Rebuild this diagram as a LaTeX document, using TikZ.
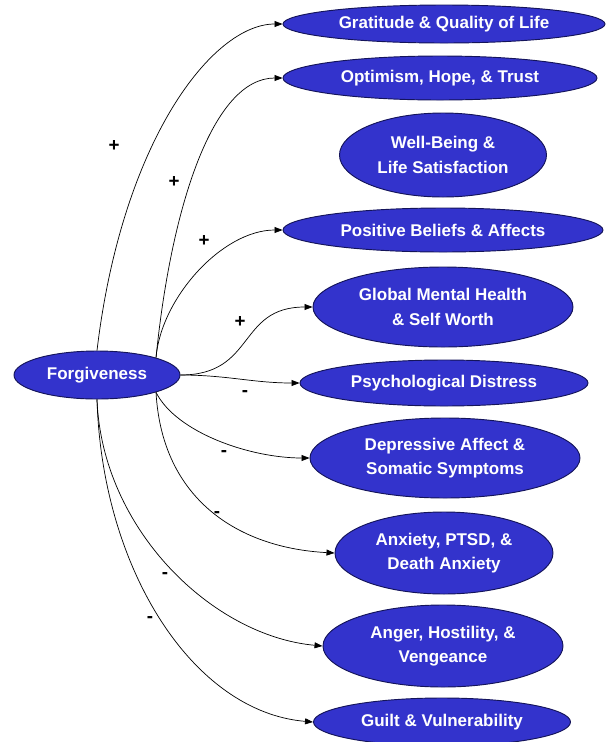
\documentclass[tikz,border=0pt]{standalone}
\usepackage{fontspec}
\setmainfont{Liberation Sans}
\usepackage{tikz}
\usetikzlibrary{arrows.meta, shapes.geometric}
\definecolor{ovalblue}{RGB}{51,51,204}
\definecolor{ovalline}{RGB}{20,20,90}

\begin{document}
\begin{tikzpicture}[x=0.03cm, y=-0.03cm,
    outcome/.style={draw=ovalline, line width=0.8pt, ellipse, fill=ovalblue, inner sep=0pt,
        text=white, font=\fontsize{14.5}{21}\selectfont\bfseries, align=center},
    ovalsize/.style 2 args={minimum width=#1*0.03cm, minimum height=#2*0.03cm},
    link/.style={-{Triangle[length=2.4mm, width=1.8mm]}, line width=0.6pt},
    sign/.style={font=\fontsize{16}{16}\selectfont\bfseries, inner sep=0pt}]
    \useasboundingbox (0,0) rectangle (607,742);
    \clip (0,0) rectangle (607,742);

    % Forgiveness
    \node[outcome, ovalsize={166}{48}] (forg) at (97,375) {Forgiveness};

    % Positive outcomes
    \node[outcome, ovalsize={322}{38}] (grat) at (444,24) {Gratitude \& Quality of Life};
    \node[outcome, ovalsize={314}{44}] (optim) at (440,78) {Optimism, Hope, \& Trust};
    \node[outcome, ovalsize={207}{84}] (wellb) at (443,155) {Well-Being \&\\Life Satisfaction};
    \node[outcome, ovalsize={320}{44}] (posb) at (443,230) {Positive Beliefs \& Affects};
    \node[outcome, ovalsize={260}{80}] (globmh) at (443,307) {Global Mental Health\\\& Self Worth};

    % Negative outcomes
    \node[outcome, ovalsize={288}{46}] (psyd) at (444,383) {Psychological Distress};
    \node[outcome, ovalsize={270}{80}] (depr) at (445,458) {Depressive Affect \&\\Somatic Symptoms};
    \node[outcome, ovalsize={218}{82}] (anx) at (444,553) {Anxiety, PTSD, \&\\Death Anxiety};
    \node[outcome, ovalsize={240}{82}] (anger) at (443,646) {Anger, Hostility, \&\\Vengeance};
    \node[outcome, ovalsize={257}{48}] (guilt) at (442,722) {Guilt \& Vulnerability};

    % Links
    \draw[link] (forg.north) .. controls +(25,-210) and +(-70,0) .. (grat.west);
    \draw[link] (forg.north east) .. controls +(15,-150) and +(-70,0) .. (optim.west);
    \draw[link] (forg.north east) .. controls +(5,-60) and +(-60,0) .. (posb.west);
    \draw[link] (forg.east) to[out=0, in=180, looseness=1.3] (globmh.west);
    \draw[link] (forg.east) to[out=0, in=180] (psyd.west);
    \draw[link] (forg.south east) .. controls +(20,40) and +(-60,0) .. (depr.west);
    \draw[link] (forg.south east) .. controls +(6,108) and +(-95,-5) .. (anx.west);
    \draw[link] (forg.south) .. controls +(5,130) and +(-110,-10) .. (anger.west);
    \draw[link] (forg.south) .. controls +(5,170) and +(-120,-10) .. (guilt.west);

    % Signs
    \node[sign] (sgrat) at (114,146) {+};
    \node[sign] (soptim) at (174,182) {+};
    \node[sign] (sposb) at (204,241) {+};
    \node[sign] (sglobmh) at (240,322) {+};
    \node[sign] (spsyd) at (245,394) {-};
    \node[sign] (sdepr) at (224,454) {-};
    \node[sign] (sanx) at (217,515) {-};
    \node[sign] (sanger) at (165,576) {-};
    \node[sign] (sguilt) at (150,620) {-};
\end{tikzpicture}
\end{document}
